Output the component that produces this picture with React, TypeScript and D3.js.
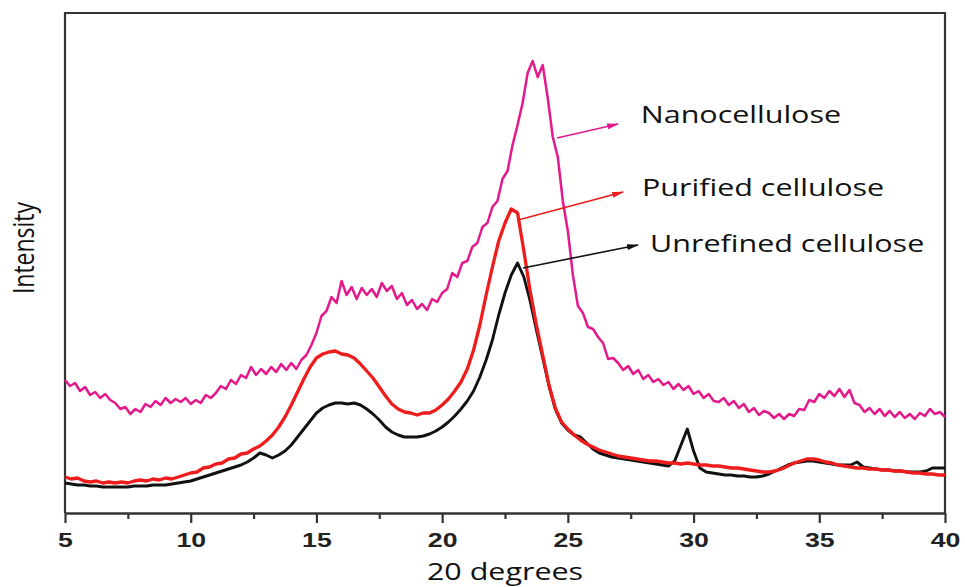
import { useEffect, useRef } from "react";
import { select, scaleLinear, axisBottom, line } from "d3";

////
// x: 2θ (deg), y: intensity (a.u.)
const THETA_DOMAIN = [5, 40];
const INTENSITY_DOMAIN = [0, 500];
const TICKS_MAJOR = [5, 10, 15, 20, 25, 30, 35, 40];
const TICKS_MINOR = [7.5, 12.5, 17.5, 22.5, 27.5, 32.5, 37.5];

// nanocellulose, sampled every 0.2 deg from 5
const NANO_STEP = 0.2;
const nanocellulose = [
  133, 127, 130, 122, 126, 118, 121, 115, 119, 113,
  110, 104, 106, 99, 104, 101, 109, 106, 112, 108,
  115, 110, 114, 111, 115, 109, 113, 110, 118, 115,
  120, 127, 124, 133, 129, 138, 135, 146, 138, 144,
  139, 146, 141, 149, 143, 150, 144, 153, 158, 168,
  180, 197, 202, 216, 210, 232, 218, 226, 214, 225,
  218, 224, 216, 230, 222, 227, 214, 220, 208, 213,
  204, 209, 203, 214, 211, 220, 224, 240, 236, 250,
  252, 266, 270, 286, 290, 306, 312, 334, 342, 368,
  388, 410, 440, 452, 436, 448, 415, 376, 356, 312,
  282, 238, 207, 200, 186, 184, 176, 170, 154, 155,
  150, 143, 147, 139, 143, 134, 138, 131, 134, 128,
  131, 124, 129, 123, 127, 119, 122, 115, 119, 112,
  111, 115, 108, 112, 105, 109, 101, 105, 98, 102,
  100, 95, 99, 94, 99, 97, 104, 103, 113, 111,
  119, 115, 122, 117, 124, 116, 123, 110, 108, 101,
  105, 99, 104, 97, 102, 96, 101, 95, 99, 94,
  100, 97, 104, 99, 101, 96,
];

// purified + unrefined, sampled every 0.25 deg from 5
const CELL_STEP = 0.25;
const purified = [
  36, 34, 35, 32, 31, 32, 30, 31,
  30, 31, 30, 32, 33, 32, 34, 33,
  35, 34, 36, 38, 40, 41, 45, 46,
  49, 50, 54, 55, 59, 60, 64, 67,
  72, 78, 86, 96, 108, 121, 134, 146,
  155, 159, 161, 162, 159, 158, 155, 149,
  142, 135, 126, 117, 109, 104, 101, 100,
  98, 100, 100, 103, 108, 114, 122, 131,
  144, 163, 188, 218, 246, 272, 290, 304,
  300, 262, 222, 188, 158, 128, 105, 91,
  84, 78, 73, 69, 66, 63, 61, 59,
  57, 56, 55, 54, 53, 52, 52, 51,
  50, 50, 49, 50, 49, 48, 48, 47,
  47, 46, 45, 45, 44, 43, 42, 41,
  41, 42, 44, 47, 50, 52, 54, 54,
  53, 51, 50, 48, 47, 46, 45, 45,
  44, 44, 43, 43, 42, 42, 41, 40,
  40, 39, 39, 38, 38,
];
const unrefined = [
  30, 29, 28, 28, 27, 27, 26, 26,
  26, 26, 26, 27, 27, 27, 28, 28,
  28, 29, 30, 31, 32, 34, 36, 38,
  40, 42, 44, 46, 48, 51, 55, 60,
  58, 55, 58, 62, 68, 76, 84, 92,
  100, 105, 108, 110, 110, 109, 110, 108,
  104, 99, 93, 86, 81, 78, 76, 76,
  76, 77, 79, 82, 86, 91, 97, 104,
  112, 122, 136, 153, 173, 198, 220, 238,
  250, 236, 212, 183, 155, 127, 104, 90,
  83, 78, 76, 70, 64, 60, 58, 56,
  55, 54, 53, 52, 51, 50, 49, 48,
  47, 52, 68, 84, 62, 45, 41, 40,
  39, 38, 38, 37, 37, 36, 36, 37,
  39, 42, 45, 48, 50, 51, 52, 52,
  51, 50, 49, 48, 48, 48, 51, 46,
  45, 44, 43, 43, 42, 42, 41, 41,
  41, 42, 45, 45, 45,
];

const labels = ["Nanocellulose", "Purified cellulose", "Unrefined cellulose"];

////
const OPTIONS = {
  width: 965,
  height: 587,
  left: 65,
  right: 945,
  top: 13,
  bottom: 513,
  // source figure is stretched horizontally
  stretchX: 1.27,
  frameColor: "#333",
  // [theta, intensity] anchors for the call-out arrows
  callouts: [
    { key: "nano", color: "#e3198c", from: [24.57, 375], to: [27.0, 389], text: [27.9, 390] },
    { key: "pur", color: "#ee1c1c", from: [23.02, 293], to: [27.2, 321], text: [27.95, 317] },
    { key: "unr", color: "#111", from: [23.22, 245], to: [27.79, 268], text: [28.27, 261] },
  ],
};

const SERIES = [
  { key: "nano", data: nanocellulose, step: NANO_STEP, color: "#e3198c", width: 2.5 },
  { key: "unr", data: unrefined, step: CELL_STEP, color: "#111", width: 2.9 },
  { key: "pur", data: purified, step: CELL_STEP, color: "#ee1c1c", width: 3.3 },
];

const App = () => {
  const ref = useRef<SVGSVGElement>(null);
  const { width, height, left, right, top, bottom, stretchX, frameColor, callouts } = OPTIONS;

  useEffect(() => {
    if (!ref.current) return;
    const svg = select(ref.current);
    svg.selectAll("*").remove();
    //
    const x = scaleLinear().domain(THETA_DOMAIN).range([left, right]);
    const y = scaleLinear().domain(INTENSITY_DOMAIN).range([bottom, top]);
    //
    // arrow heads
    const defs = svg.append("defs");
    callouts.forEach((c) => {
      defs
        .append("marker")
        .attr("id", `arrow-${c.key}`)
        .attr("viewBox", "0 0 12 6")
        .attr("refX", 11)
        .attr("refY", 3)
        .attr("markerWidth", 12)
        .attr("markerHeight", 6)
        .attr("markerUnits", "userSpaceOnUse")
        .attr("orient", "auto")
        .append("path")
        .attr("d", "M0,0 L12,3 L0,6 z")
        .attr("fill", c.color);
    });
    //
    // frame (left, top, right)
    svg
      .append("path")
      .attr("d", `M${x(5)},${y(0)}V${top}H${x(40)}V${y(0)}`)
      .attr("fill", "none")
      .attr("stroke", frameColor)
      .attr("stroke-width", 2.2);
    //
    // curves
    SERIES.forEach((s) => {
      const path = line<number>()
        .x((_, i) => x(THETA_DOMAIN[0] + i * s.step))
        .y((d) => y(d));
      svg
        .append("path")
        .attr("d", path(s.data))
        .attr("fill", "none")
        .attr("stroke", s.color)
        .attr("stroke-width", s.width)
        .attr("stroke-linejoin", "round");
    });
    //
    // x axis, major + minor
    const xAxis = svg.append("g").attr("transform", `translate(0, ${bottom})`);
    xAxis.call(
      axisBottom(x).tickValues(TICKS_MAJOR).tickSize(10).tickSizeOuter(0).tickPadding(9)
    );
    xAxis.select(".domain").attr("stroke", frameColor).attr("stroke-width", 2.5);
    xAxis.selectAll(".tick line").attr("stroke", frameColor).attr("stroke-width", 2.2);
    xAxis
      .selectAll(".tick text")
      .attr("font-family", "'Liberation Sans', Arial, sans-serif")
      .attr("font-weight", "bold")
      .attr("font-size", 21)
      .attr("fill", "#222")
      .attr("transform", `scale(${stretchX},1)`);
    //
    const xMinor = svg.append("g").attr("transform", `translate(0, ${bottom})`);
    xMinor.call(
      axisBottom(x).tickValues(TICKS_MINOR).tickSize(6).tickSizeOuter(0).tickFormat(() => "")
    );
    xMinor.select(".domain").remove();
    xMinor.selectAll(".tick line").attr("stroke", frameColor).attr("stroke-width", 2.2);
    //
    // axis titles
    svg
      .append("text")
      .attr("transform", `translate(${(left + right) / 2}, 580) scale(${stretchX},1)`)
      .attr("text-anchor", "middle")
      .attr("font-family", "'Open Sans', sans-serif")
      .attr("font-size", 24)
      .attr("fill", "#111")
      .text("20 degrees");
    svg
      .append("text")
      .attr("transform", `translate(34, 248) scale(${stretchX},1) rotate(-90)`)
      .attr("text-anchor", "middle")
      .attr("font-family", "'Open Sans', sans-serif")
      .attr("font-size", 23)
      .attr("fill", "#111")
      .text("Intensity");
    //
    // call-outs
    callouts.forEach((c, i) => {
      svg
        .append("line")
        .attr("x1", x(c.from[0]))
        .attr("y1", y(c.from[1]))
        .attr("x2", x(c.to[0]))
        .attr("y2", y(c.to[1]))
        .attr("stroke", c.color)
        .attr("stroke-width", 1.6)
        .attr("marker-end", `url(#arrow-${c.key})`);
      svg
        .append("text")
        .attr("transform", `translate(${x(c.text[0])}, ${y(c.text[1])}) scale(${stretchX},1)`)
        .attr("font-family", "'Open Sans', sans-serif")
        .attr("font-size", 24)
        .attr("fill", "#111")
        .text(labels[i]);
    });
  }, []);

  return (
    <svg
      ref={ref}
      width={width}
      height={height}
      style={{ position: "absolute", left: 0, top: 0, background: "#fff" }}
    />
  );
};

export default App;
